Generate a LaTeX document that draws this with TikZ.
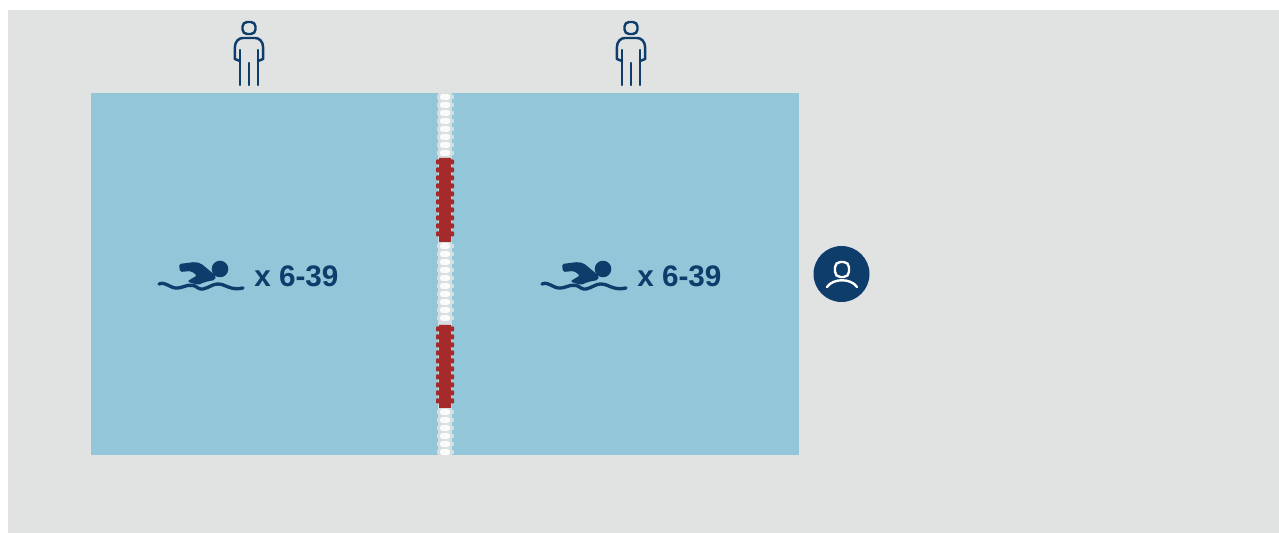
\documentclass[tikz,border=0pt]{standalone}
\usepackage{fontspec}
\setmainfont{Liberation Sans}
\usetikzlibrary{positioning}
\definecolor{plGround}{HTML}{E1E3E3}
\definecolor{plWater}{HTML}{94C6D9}
\definecolor{plInk}{HTML}{0E3C6B}
\definecolor{plRed}{HTML}{A52A2C}
\definecolor{plFloat}{HTML}{FAFBFB}
\definecolor{plEdge}{HTML}{D5DEE0}
\tikzset{
  pl ground/.style={fill=plGround},
  pl water/.style={fill=plWater},
  pl line/.style={draw=plInk, line width=1.4pt, line cap=round, line join=round},
  pl wave/.style={draw=plInk, line width=1.9pt, line cap=round},
  pl count/.style={font=\bfseries\fontsize{16.9}{18}\selectfont, text=plInk, inner sep=0},
  pl mark/.style={draw=white, line width=1.35pt, line cap=round},
  pic person/.pic={
    \draw[pl line, rounded corners=2.6pt] (-6.5,-31) rectangle (6.5,-19);
    \draw[pl line] (-9,8) -- (-14.2,6) -- (-14.2,-5)
      .. controls (-14.2,-12) and (-10,-15) .. (-6,-15) -- (6,-15)
      .. controls (10,-15) and (14.2,-12) .. (14.2,-5) -- (14.2,6) -- (9,8);
    \draw[pl line] (-9,-3) -- (-9,32) (9,-3) -- (9,32) (0,10) -- (0,32);
  },
  pic swimmer/.pic={
    \fill[plInk] (20,-6) circle (8.3);
    \fill[plInk, rounded corners=1pt] (-21,-11) -- (-5,-13) -- (1,-11.5) -- (16,1)
      -- (15,5) -- (5,7) -- (-2,10) -- (-13,6.5) -- (-3,0.5) -- (-9,-4) -- (-20,-3) -- cycle;
    \draw[pl wave] (-41,9) .. controls (-34,6) and (-30,14) .. (-22,13)
      .. controls (-14,12) and (-10,7) .. (-2,13)
      .. controls (5,17) and (10,9) .. (18,9)
      .. controls (26,9) and (30,16) .. (43,13);
  }
}
\begin{document}
\begin{tikzpicture}[x=.02cm,y=-.02cm]
  \useasboundingbox (0,0) rectangle (1279,533);
  \path[pl ground] (8,10) rectangle (1279,533);
  \path[pl water] (91,93) rectangle (799,455);

  % lane rope
  \fill[plEdge] (438,93) rectangle (452,455);
  \foreach \py/\pz in {97/153,246/318,412/452} {
    \foreach \pk in {0,...,9} {
      \pgfmathsetmacro{\pn}{\py+8*\pk}
      \ifdim\pn pt<\pz.5pt
        \fill[plEdge] (436.5,\pn-2) rectangle (453.5,\pn+2);
        \fill[plFloat, rounded corners=1pt] (440,\pn-3) rectangle (450,\pn+3);
      \fi
    }
  }
  \fill[plRed] (439,158) rectangle (451,242) (439,325) rectangle (451,408);
  \foreach \py in {162,170,...,238} {
    \fill[plRed, rounded corners=.5pt] (436,\py-2.5) rectangle (454,\py+2.5);
  }
  \foreach \py in {329,337,...,405} {
    \fill[plRed, rounded corners=.5pt] (436,\py-2.5) rectangle (454,\py+2.5);
  }

  \pic at (249,53) {pic person};
  \pic at (631,53) {pic person};

  \pic at (200,275) {pic swimmer};
  \pic at (583,275) {pic swimmer};
  \node[pl count, anchor=west] (countA) at (254,276) {x 6-39};
  \node[pl count, anchor=west] (countB) at (637,276) {x 6-39};

  \node[circle, fill=plInk, minimum size=56*.02cm, inner sep=0] (coach) at (841.5,274) {};
  \draw[pl mark, rounded corners=3pt] (835,262) rectangle (849,277);
  \draw[pl mark] (827,287) .. controls (833,278) and (851,278) .. (857,287);
\end{tikzpicture}
\end{document}
